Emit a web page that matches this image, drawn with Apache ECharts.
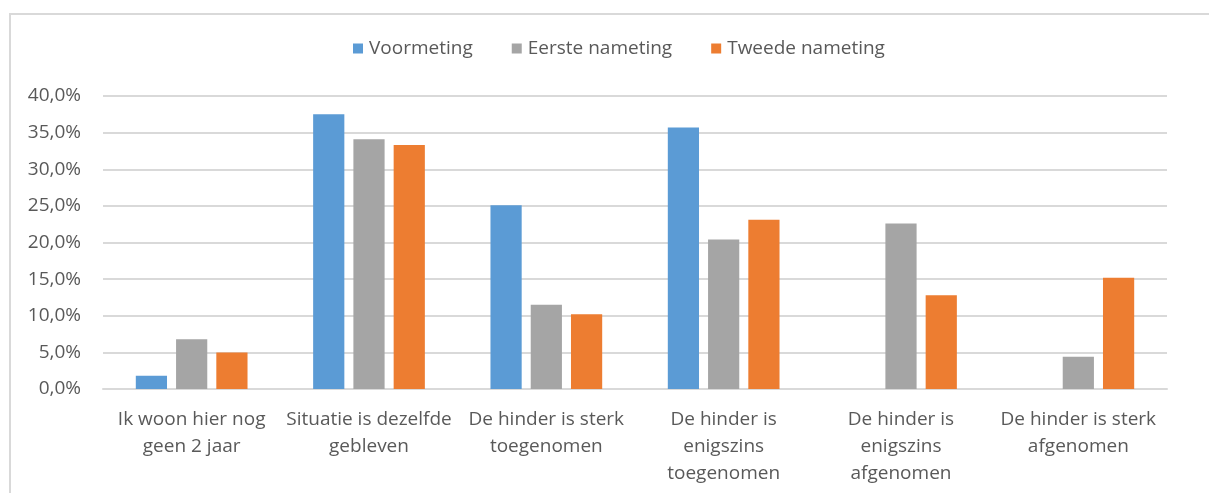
<!DOCTYPE html>
<html>
<head>
<meta charset="utf-8">
<script src="https://cdn.jsdelivr.net/npm/echarts@6/dist/echarts.min.js"></script>
<style>
  html, body { margin: 0; padding: 0; background: #fff; }
  #frame { position: absolute; left: 9px; top: 13px; width: 1300px; height: 600px;
           border-left: 2px solid #d9d9d9; border-top: 2px solid #d9d9d9; box-sizing: border-box; }
  #chart { position: absolute; left: 0; top: 0; width: 1209px; height: 493px; }
</style>
</head>
<body>
<div id="frame"></div>
<div id="chart"></div>
<script>
// Antwoordcategorieën (x-as)
const categories = [
  'Ik woon hier nog\ngeen 2 jaar',
  'Situatie is dezelfde\ngebleven',
  'De hinder is sterk\ntoegenomen',
  'De hinder is\nenigszins\ntoegenomen',
  'De hinder is\nenigszins\nafgenomen',
  'De hinder is sterk\nafgenomen'
];

// Percentages per meting
const voormeting = [1.8, 37.5, 25.1, 35.7, null, null];
const eersteNameting = [6.8, 34.1, 11.5, 20.4, 22.6, 4.4];
const tweedeNameting = [5.0, 33.3, 10.2, 23.1, 12.8, 15.2];

const seriesNames = ['Voormeting', 'Eerste nameting', 'Tweede nameting'];
const seriesColors = ['#5b9bd5', '#a5a5a5', '#ed7d31'];

const font = '"Open Sans", sans-serif';
const textColor = '#595959';

const chart = echarts.init(document.getElementById('chart'), null, { renderer: 'canvas' });

const seriesData = [voormeting, eersteNameting, tweedeNameting];

chart.setOption({
  animation: false,
  textStyle: { fontFamily: font },
  legend: {
    top: 34,
    left: 348,
    itemWidth: 10,
    itemHeight: 10,
    itemGap: 39,
    icon: 'rect',
    textStyle: { fontFamily: font, fontSize: 19, color: textColor, padding: [0, 0, 0, 1] },
    data: seriesNames
  },
  grid: { left: 103, right: 42, top: 96, bottom: 104, containLabel: false },
  xAxis: {
    type: 'category',
    data: categories,
    axisLine: { show: true, lineStyle: { color: '#d9d9d9', width: 2 } },
    axisTick: { show: false },
    axisLabel: {
      interval: 0,
      margin: 17,
      fontFamily: font,
      fontSize: 19,
      lineHeight: 27,
      color: textColor
    }
  },
  yAxis: {
    type: 'value',
    min: 0,
    max: 40,
    interval: 5,
    axisLine: { show: false },
    axisTick: { show: false },
    splitLine: { lineStyle: { color: '#d9d9d9', width: 2 } },
    axisLabel: {
      margin: 22,
      fontFamily: font,
      fontSize: 19,
      color: textColor,
      formatter: v => v.toFixed(1).replace('.', ',') + '%'
    }
  },
  series: seriesNames.map((name, i) => ({
    name,
    type: 'bar',
    data: seriesData[i],
    barGap: '29%',
    barCategoryGap: '37%',
    itemStyle: { color: seriesColors[i] }
  }))
});
</script>
</body>
</html>
